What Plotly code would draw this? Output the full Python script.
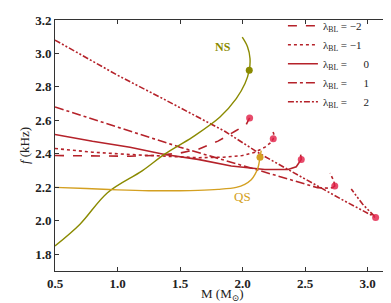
import plotly.graph_objects as go

# ---- data ----
ns_M = [0.5, 0.7, 0.92, 1.2, 1.38, 1.6, 1.82, 1.95, 2.02, 2.054, 2.06, 2.04, 1.998]
ns_f = [1.85, 1.98, 2.168, 2.30, 2.40, 2.50, 2.62, 2.73, 2.82, 2.90, 2.97, 3.04, 3.097]
ns_max_M = [2.054]
ns_max_f = [2.90]

qs_M = [0.5, 0.75, 1.0, 1.25, 1.5, 1.644, 1.804, 1.95, 2.018, 2.07, 2.10, 2.125, 2.14, 2.15]
qs_f = [2.200, 2.193, 2.185, 2.180, 2.180, 2.182, 2.188, 2.200, 2.218, 2.245, 2.277, 2.32, 2.38, 2.42]
qs_max_M = [2.14]
qs_max_f = [2.38]

lm2_M = [0.5, 0.8, 1.1, 1.3, 1.5, 1.644, 1.804, 1.94, 2.03, 2.057]
lm2_f = [2.39, 2.386, 2.386, 2.39, 2.405, 2.427, 2.476, 2.535, 2.575, 2.615]

lm1_M = [0.5, 0.8, 1.1, 1.4, 1.65, 1.85, 2.0, 2.1, 2.18, 2.23, 2.246, 2.25, 2.238]
lm1_f = [2.432, 2.41, 2.396, 2.386, 2.377, 2.38, 2.39, 2.41, 2.44, 2.47, 2.49, 2.52, 2.545]

l0_M = [0.5, 0.8, 1.1, 1.378, 1.644, 1.91, 2.178, 2.364, 2.43, 2.456, 2.47, 2.465]
l0_f = [2.516, 2.475, 2.44, 2.396, 2.367, 2.327, 2.307, 2.307, 2.323, 2.347, 2.367, 2.396]

l1_M = [0.5, 1.0, 1.5, 2.0, 2.36, 2.6, 2.7, 2.725, 2.738, 2.73, 2.70]
l1_f = [2.68, 2.56, 2.44, 2.33, 2.25, 2.198, 2.195, 2.200, 2.208, 2.24, 2.285]

l2_M = [0.5, 1.0, 1.378, 1.858, 2.15, 2.5, 2.8, 3.065, 2.96, 2.87]
l2_f = [3.08, 2.87, 2.724, 2.535, 2.396, 2.25, 2.125, 2.02, 2.10, 2.19]

bl_max_M = [2.057, 2.246, 2.47, 2.738, 3.065]
bl_max_f = [2.615, 2.49, 2.367, 2.208, 2.02]

legend_names = ["λ<sub>BL</sub> = −2", "λ<sub>BL</sub> = −1", "λ<sub>BL</sub> =  \u2007\u20070",
                "λ<sub>BL</sub> =  \u2007\u20071", "λ<sub>BL</sub> =  \u2007\u20072"]

x_ticks = [0.5, 1.0, 1.5, 2.0, 2.5, 3.0]
y_ticks = [1.8, 2.0, 2.2, 2.4, 2.6, 2.8, 3.0, 3.2]

# ---- styles ----
RED = "#b5222a"
MRED = "rgba(225,30,70,0.8)"
OLIVE = "#8a8a00"
GOLD = "#d4a021"
SERIF = "Liberation Serif, DejaVu Serif, serif"

fig = go.Figure()

series = [(lm2_M, lm2_f, "dash"), (lm1_M, lm1_f, "dot"), (l0_M, l0_f, "solid"),
          (l1_M, l1_f, "dashdot"), (l2_M, l2_f, "6px,2px,2px,2px,2px,2px")]
for (m, f, d), name in zip(series, legend_names):
    fig.add_trace(go.Scatter(x=m, y=f, mode="lines", name=name,
                             line=dict(color=RED, width=1.6, dash=d)))

fig.add_trace(go.Scatter(x=ns_M, y=ns_f, mode="lines", line=dict(color=OLIVE, width=1.4),
                         showlegend=False, line_shape="spline"))
fig.add_trace(go.Scatter(x=qs_M, y=qs_f, mode="lines", line=dict(color=GOLD, width=1.4),
                         showlegend=False, line_shape="spline"))
fig.add_trace(go.Scatter(x=ns_max_M, y=ns_max_f, mode="markers",
                         marker=dict(color=OLIVE, size=7), showlegend=False))
fig.add_trace(go.Scatter(x=qs_max_M, y=qs_max_f, mode="markers",
                         marker=dict(color=GOLD, size=7), showlegend=False))
fig.add_trace(go.Scatter(x=bl_max_M, y=bl_max_f, mode="markers",
                         marker=dict(color=MRED, size=7), showlegend=False))

fig.add_annotation(x=1.84, y=3.04, text="<b>NS</b>", showarrow=False,
                   font=dict(family=SERIF, size=12, color=OLIVE))
fig.add_annotation(x=2.0, y=2.145, text="QS", showarrow=False,
                   font=dict(family=SERIF, size=13, color=GOLD))
# x-axis title placed as an annotation so it stays inside the canvas
fig.add_annotation(x=0.5, y=-0.092, xref="paper", yref="paper", text="M (M<sub>⊙</sub>)",
                   showarrow=False, xanchor="center", yanchor="middle",
                   font=dict(family=SERIF, size=13, color="#222"))

axis_common = dict(showline=True, linecolor="#333", linewidth=1, mirror="ticks",
                   ticks="inside", ticklen=4, tickcolor="#333", showgrid=False,
                   zeroline=False, tickfont=dict(family=SERIF, size=13, color="#222"))
fig.update_xaxes(range=[0.5, 3.18], tickvals=x_ticks, ticktext=[f"<b>{v:.1f}</b>" for v in x_ticks],
                 **axis_common)
fig.update_yaxes(range=[1.7, 3.2], tickvals=y_ticks, ticktext=[f"<b>{v:.1f}</b>" for v in y_ticks],
                 title=dict(text="<i>f</i> (kHz)", font=dict(family=SERIF, size=13, color="#222"),
                            standoff=2), **axis_common)

fig.update_layout(
    width=391, height=303,
    margin=dict(l=47, r=9, t=12, b=40, autoexpand=False),
    plot_bgcolor="white", paper_bgcolor="white",
    legend=dict(x=0.955, y=1.035, xanchor="right", yanchor="top", bgcolor="rgba(0,0,0,0)",
                font=dict(family=SERIF, size=11, color="#222"), itemwidth=30,
                tracegroupgap=0),
)

fig.write_html("out.html")
